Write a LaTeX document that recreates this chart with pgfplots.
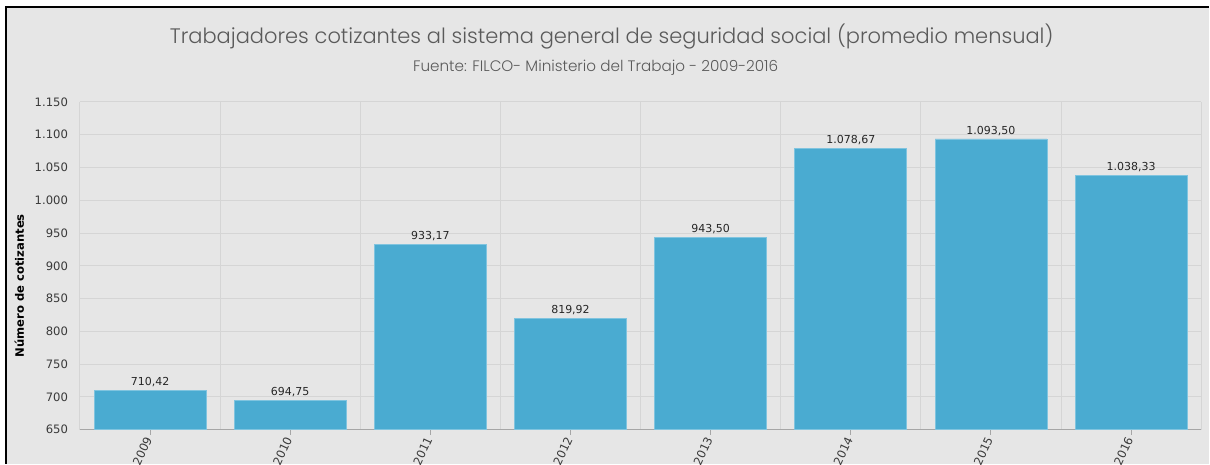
\documentclass[border=0pt]{standalone}
\usepackage{pgfplots}
\pgfplotsset{compat=1.18}
\usepackage{fontspec}
\setmainfont{DejaVu Sans}
\IfFontExistsTF{Poppins Light}{\newfontfamily\titlefont{Poppins Light}}{\newfontfamily\titlefont{Poppins}}
\definecolor{bg}{HTML}{E6E6E6}
\definecolor{barblue}{HTML}{4AABD1}
\definecolor{gridc}{HTML}{D5D5D5}
\definecolor{tickc}{HTML}{3A3A3A}
\definecolor{titlec}{HTML}{5A5A5A}

\begin{document}
\begin{tikzpicture}
% frame: 1px = 0.5pt, origin at the plot's lower left corner
\fill[white] (-40pt,-17pt) rectangle (565pt,215pt);
\fill[bg] (-37pt,-17pt) rectangle (565pt,211.5pt);
\draw[black, line width=0.8pt] (-37pt,-17pt) -- (-37pt,211.5pt) -- (565pt,211.5pt);
\useasboundingbox (-40pt,-17pt) rectangle (565pt,215pt);

\begin{axis}[
    at={(0,0)}, anchor=south west,
    scale only axis, width=561pt, height=164pt,
    xmin=-0.5, xmax=7.5, ymin=650, ymax=1150,
    ybar, bar width=56pt,
    axis x line*=bottom, axis y line*=left,
    y axis line style={draw=none},
    x axis line style={draw=gray!70, line width=0.6pt},
    xtick={0,...,7},
    xticklabels={2009,2010,2011,2012,2013,2014,2015,2016},
    minor xtick={-0.5,0.5,...,7.5},
    xminorgrids, ymajorgrids,
    grid style={gridc, line width=0.5pt},
    minor grid style={gridc, line width=0.5pt},
    ytick={650,700,...,1150},
    tick align=outside,
    major tick length=2.5pt, minor tick length=0pt,
    ytick style={draw=none},
    xtick style={draw=gray!70, line width=0.5pt},
    xticklabel style={rotate=65, anchor=east, font=\fontsize{5.8}{7}\selectfont, text=tickc, inner sep=1.5pt},
    yticklabel style={font=\fontsize{5.8}{7}\selectfont, text=tickc,
        /pgf/number format/1000 sep={.}, /pgf/number format/assume math mode=true},
    nodes near coords,
    nodes near coords style={font=\fontsize{5.5}{7}\selectfont, text=black!85, yshift=-1.8pt,
        /pgf/number format/.cd, fixed, fixed zerofill, precision=2,
        1000 sep={.}, dec sep={,}, assume math mode=true},
]
\addplot[fill=barblue, draw=barblue!70!white, line width=0.4pt] coordinates {
    (0,710.42) (1,694.75) (2,933.17) (3,819.92)
    (4,943.50) (5,1078.67) (6,1093.50) (7,1038.33)
};
\end{axis}

\node[font=\titlefont\fontsize{10.5}{12}\selectfont, text=titlec, anchor=base]
    at (266pt,193pt) {Trabajadores cotizantes al sistema general de seguridad social (promedio mensual)};
\node[font=\titlefont\fontsize{7.6}{9}\selectfont, text=titlec, anchor=base]
    at (258pt,179pt) {Fuente: FILCO- Ministerio del Trabajo - 2009-2016};
\node[rotate=90, font=\bfseries\fontsize{5.8}{7}\selectfont, anchor=base]
    at (-28pt,72pt) {Número de cotizantes};
\end{tikzpicture}
\end{document}
